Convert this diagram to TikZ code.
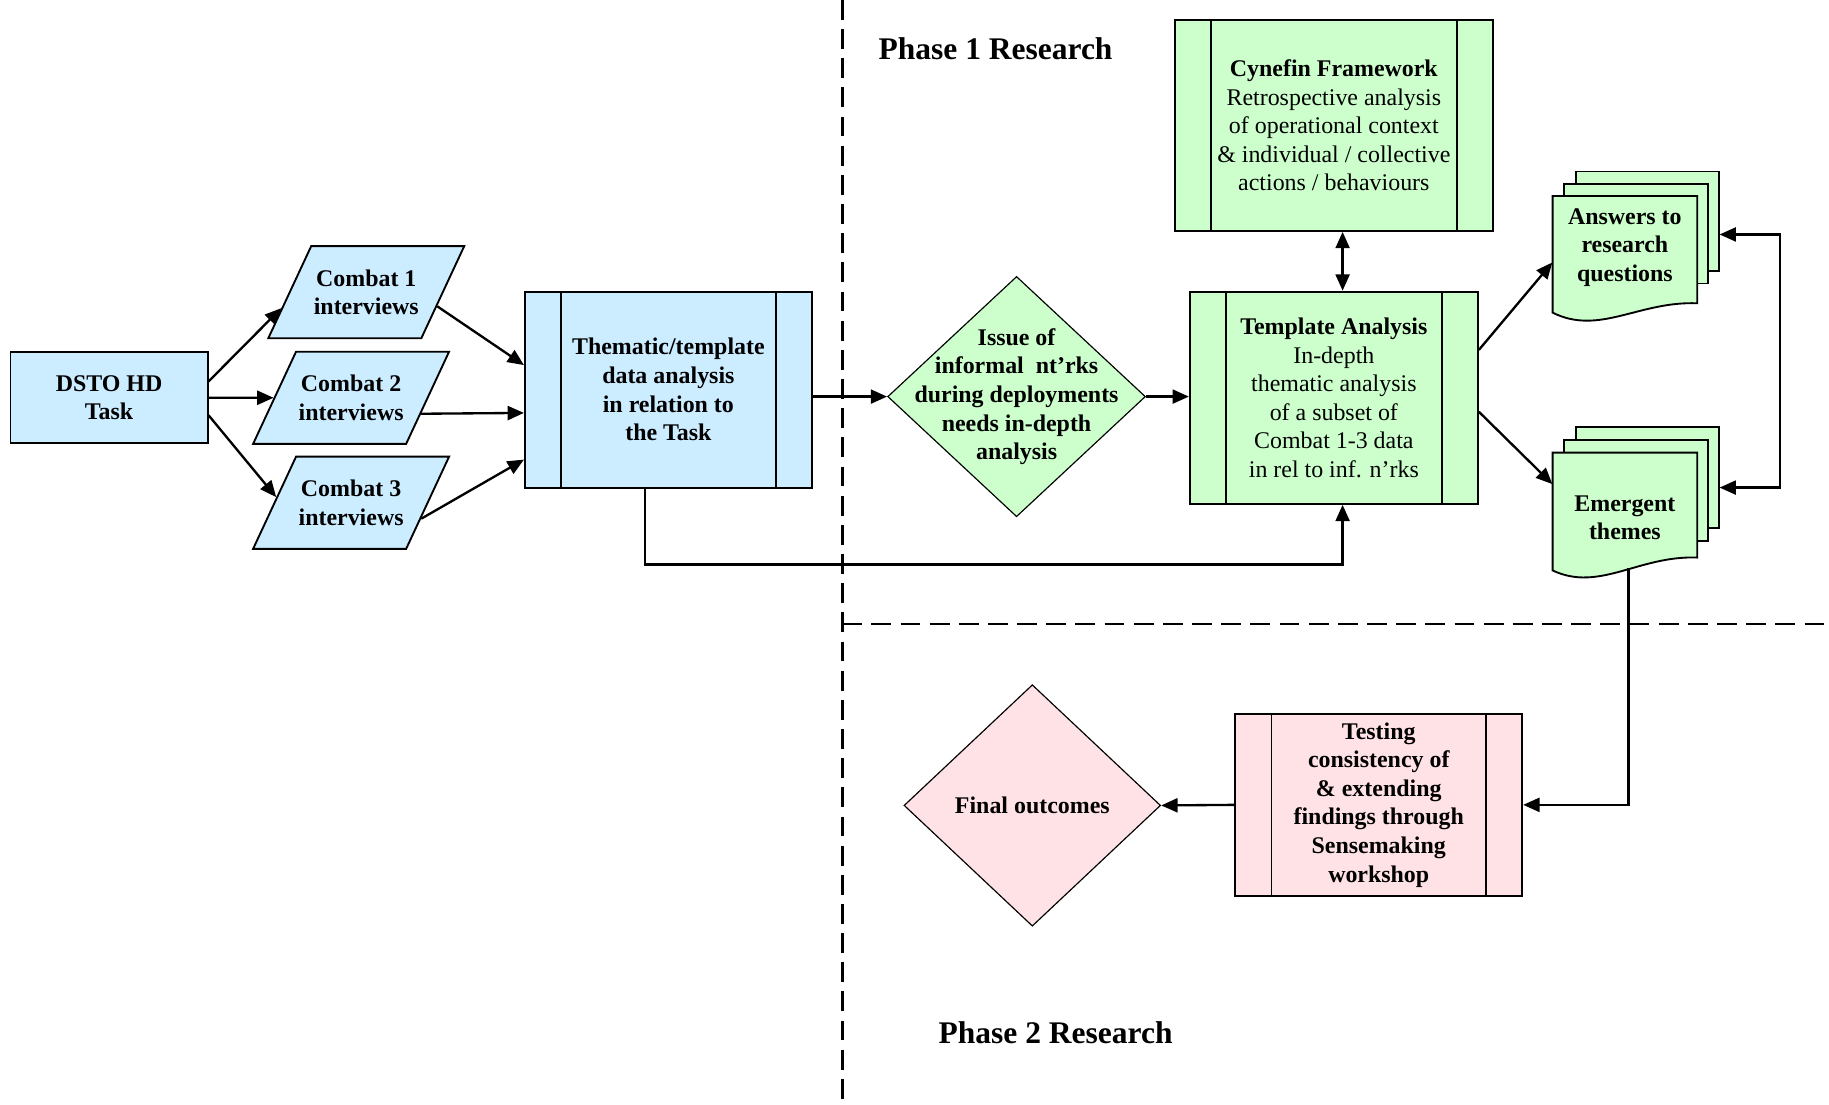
\documentclass[tikz,border=0pt]{standalone}
\usepackage{fontspec}
\setmainfont{Liberation Serif}
\usetikzlibrary{shapes.geometric,arrows.meta,calc}

\definecolor{procblue}{RGB}{204,236,255}
\definecolor{procgreen}{RGB}{204,255,204}
\definecolor{procpink}{RGB}{255,226,230}

\tikzset{
  boxfont/.style={font=\fontsize{20.5}{24.5}\selectfont\bfseries},
  plainfont/.style={font=\fontsize{20.5}{24.5}\selectfont},
  taskbox/.style={draw, line width=1.6pt, fill=procblue, align=center, boxfont,
    minimum width=169pt, minimum height=78pt},
  interview/.style={trapezium, trapezium left angle=65, trapezium right angle=115,
    trapezium stretches body, draw, line width=1.6pt, fill=procblue, align=center,
    boxfont, minimum width=168pt, minimum height=79pt, inner xsep=2pt, inner ysep=20pt},
  procbox/.style={draw, line width=1.6pt, align=center, inner sep=2pt,
    path picture={
      \draw[line width=1.6pt] ([xshift=31pt]path picture bounding box.north west)
        -- ([xshift=31pt]path picture bounding box.south west);
      \draw[line width=1.6pt] ([xshift=-31pt]path picture bounding box.north east)
        -- ([xshift=-31pt]path picture bounding box.south east);
    }},
  decision/.style={diamond, draw, line width=1pt, inner sep=0pt},
  docpage/.style={draw, line width=1.6pt, fill=procgreen},
  doctext/.style={boxfont, align=center, minimum width=124pt, inner sep=0pt},
  flow/.style={line width=2pt},
  phasesep/.style={line width=2.4pt, dash pattern=on 17pt off 8pt},
  phasetitle/.style={font=\fontsize{27}{32}\selectfont\bfseries},
  >={Triangle[length=14pt,width=12pt]}
}

\begin{document}
\begin{tikzpicture}[x=1pt,y=-1pt]

  \useasboundingbox (0,0) rectangle (1568,947);

  % Phase borders
  \draw[phasesep] (722,0) -- (722,947);
  \draw[phasesep] (722,535) -- (1568,535);
  \node[phasetitle] (phase1) at (853.5,42) {Phase 1 Research};
  \node[phasetitle] (phase2) at (905,885) {Phase 2 Research};

  % Task and interviews
  \node[taskbox] (dsto) at (93.5,341) {DSTO HD\\Task};
  \node[interview] (combat1) at (314,250.5) {Combat 1\\interviews};
  \node[interview] (combat2) at (301,341) {Combat 2\\interviews};
  \node[interview] (combat3) at (301,431) {Combat 3\\interviews};

  % Phase 1 analysis
  \node[procbox, fill=procblue, boxfont, minimum width=246pt, minimum height=168pt]
    (thematic) at (573,334) {Thematic/template\\data analysis\\in relation to\\the Task};
  \node[decision, fill=procgreen, minimum width=221pt, minimum height=206pt,
    label={[boxfont,align=center]center:{Issue of\\informal\ \ nt’rks\\during deployments\\needs in-depth\\analysis}}]
    (issue) at (871.5,340) {};
  \node[procbox, fill=procgreen, plainfont, minimum width=273pt, minimum height=181pt]
    (cynefin) at (1143.5,107.5) {\textbf{Cynefin Framework}\\Retrospective analysis\\of operational context\\\& individual / collective\\actions / behaviours};
  \node[procbox, fill=procgreen, plainfont, minimum width=247pt, minimum height=182pt]
    (template) at (1143.5,341) {\textbf{Template Analysis}\\In-depth\\thematic analysis\\of a subset of\\Combat 1-3 data\\in rel to inf. n’rks};

  % Answers stack
  \draw[docpage] (1351,147) rectangle (1474,232);
  \draw[docpage] (1341,158) rectangle (1464,243);
  \draw[docpage] (1331,168) -- (1455,168) -- (1455,260)
    .. controls (1405,258) and (1371,288) .. (1331,268) -- cycle;
  \node[doctext] (answers) at (1393,212) {Answers to\\research\\questions};

  % Emergent stack
  \draw[docpage] (1351,366) rectangle (1474,453);
  \draw[docpage] (1341,377) rectangle (1464,464);
  \draw[docpage] (1331,388) -- (1455,388) -- (1455,478)
    .. controls (1405,476) and (1371,508) .. (1331,489) -- cycle;
  \node[doctext] (emergent) at (1393,444) {Emergent\\themes};
  \coordinate (emergentfoot) at (1396,487);

  % Phase 2
  \node[procbox, fill=procpink, boxfont, minimum width=246pt, minimum height=156pt]
    (testing) at (1182,690) {Testing\\consistency of\\\& extending\\findings through\\Sensemaking\\workshop};
  \node[decision, fill=procpink, minimum width=220pt, minimum height=207pt,
    label={[boxfont,align=center]center:{Final outcomes}}]
    (final) at (885,690.5) {};

  % Connectors
  \draw[flow,->] ([yshift=14pt]dsto.east) -- ($(combat1.bottom left corner)!0.33!(combat1.top left corner)$);
  \draw[flow,->] (dsto.east) -- (combat2.west);
  \draw[flow,->] ([yshift=-15pt]dsto.east) -- ($(combat3.bottom left corner)!0.56!(combat3.top left corner)$);
  \draw[flow,->] ($(combat1.bottom right corner)!0.35!(combat1.top right corner)$) -- ([yshift=21pt]thematic.west);
  \draw[flow,->] ($(combat2.bottom right corner)!0.33!(combat2.top right corner)$) -- ([yshift=-20pt]thematic.west);
  \draw[flow,->] ($(combat3.bottom right corner)!0.33!(combat3.top right corner)$) -- ([yshift=-60pt]thematic.west);
  \draw[flow,->] (thematic.east |- issue.west) -- (issue.west);
  \draw[flow,->] (issue.east) -- (issue.east -| template.west);
  \draw[flow,<->] ([xshift=7.5pt]cynefin.south) -- ([xshift=7.5pt]template.north);
  \draw[flow,->] ([xshift=-20pt]thematic.south) -- ++(0,65) -| ([xshift=7.5pt]template.south);
  \draw[flow,->] ([yshift=41pt]template.east) -- ([yshift=-13pt]answers.west);
  \draw[flow,->] ([yshift=-12pt]template.east) -- ([yshift=29pt]emergent.west);
  \draw[flow,<->] ([xshift=19pt,yshift=11pt]answers.east) -- ++(52,0) |- ([xshift=19pt,yshift=26pt]emergent.east);
  \draw[flow,->] (emergentfoot) |- (testing.east);
  \draw[flow,->] (testing.west) -- (final.east);

\end{tikzpicture}
\end{document}
